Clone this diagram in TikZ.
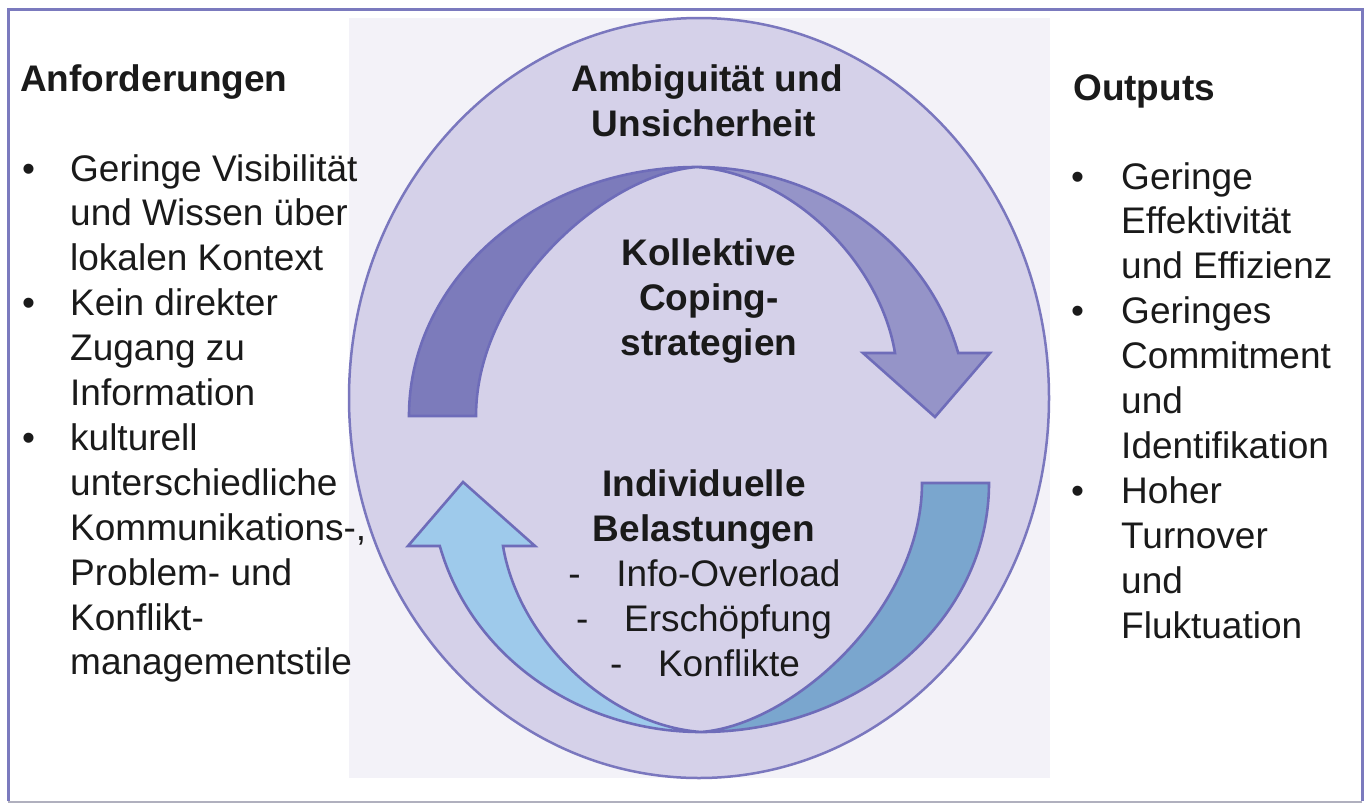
\documentclass[tikz,border=0pt]{standalone}
\usepackage{fontspec}
\setmainfont{Liberation Sans}
\definecolor{framecol}{RGB}{123,122,190}
\definecolor{framebot}{RGB}{176,176,190}
\definecolor{panelcol}{RGB}{243,242,248}
\definecolor{ellfill}{RGB}{213,209,233}
\definecolor{ellline}{RGB}{122,119,190}
\definecolor{arrline}{RGB}{110,108,185}
\definecolor{topdark}{RGB}{124,123,187}
\definecolor{toplight}{RGB}{149,148,200}
\definecolor{botsteel}{RGB}{122,166,206}
\definecolor{botlight}{RGB}{158,202,235}
\definecolor{textcol}{RGB}{26,26,26}

% one curved arrow: tapered tail piece (#1) and head piece (#2) meeting at the top
\newcommand\cyclearrow[2]{%
  \filldraw[arrowstroke, fill=#1]
    (409,416) arc[start angle=180, end angle=270, x radius=288, y radius=249]
    .. controls (605,174) and (476,290) .. (476,416) -- cycle;
  \filldraw[arrowstroke, fill=#2]
    (697,167) arc[start angle=270, end angle=345.34, x radius=270, y radius=249]
    -- (990,353) -- (935,417) -- (863,353) -- (895,353)
    .. controls (880,262) and (792,174) .. (697,167) -- cycle;
}

\begin{document}
\begin{tikzpicture}[x=1pt, y=-1pt,
  arrowstroke/.style={draw=arrline, line width=2.6pt, line join=miter},
  txt/.style={inner sep=0pt, text=textcol, font=\fontsize{37}{45}\selectfont},
  item/.style={txt, anchor=base west},
  head/.style={txt, anchor=base west, font=\fontsize{37}{45}\selectfont\bfseries},
  ctr/.style={txt, anchor=base},
  ctrbold/.style={txt, anchor=base, font=\fontsize{37}{45}\selectfont\bfseries}]
\useasboundingbox (0,0) rectangle (1367,803);
\fill[white] (0,0) rectangle (1367,803);

% outer frame
\draw[framecol, line width=3pt] (8,801) -- (8,9) -- (1362,9) -- (1362,801);
\draw[framebot, line width=2pt] (8,802) -- (1362,802);

% central panel and ellipse
\fill[panelcol] (349,18) rectangle (1050,778);
\draw[ellline, fill=ellfill, line width=2.5pt] (699,398) ellipse [x radius=350, y radius=380];

% upper arrow
\cyclearrow{topdark}{toplight}
% lower arrow: the same shape turned half around
\begin{scope}[rotate around={180:(699,449.5)}]
  \cyclearrow{botsteel}{botlight}
\end{scope}

% left column
\node[head] (anf) at (20,91) {Anforderungen};
\node[item] (lb1) at (22,181) {•};
\node[item] (lb2) at (22,315.7) {•};
\node[item] (lb3) at (22,450.4) {•};
\node[item] (l1) at (70,181) {Geringe Visibilität};
\node[item] (l2) at (70,225.9) {und Wissen über};
\node[item] (l3) at (70,270.8) {lokalen Kontext};
\node[item] (l4) at (70,315.7) {Kein direkter};
\node[item] (l5) at (70,360.6) {Zugang zu};
\node[item] (l6) at (70,405.5) {Information};
\node[item] (l7) at (70,450.4) {kulturell};
\node[item] (l8) at (70,495.3) {unterschiedliche};
\node[item] (l9) at (70,540.2) {Kommunikations-,};
\node[item] (l10) at (70,585.1) {Problem- und};
\node[item] (l11) at (70,630) {Konflikt-};
\node[item] (l12) at (70,674.9) {managementstile};

% right column
\node[head] (out) at (1073,100) {Outputs};
\node[item] (rb1) at (1071,189) {•};
\node[item] (rb2) at (1071,323.7) {•};
\node[item] (rb3) at (1071,503.3) {•};
\node[item] (r1) at (1121,189) {Geringe};
\node[item] (r2) at (1121,233.9) {Effektivität};
\node[item] (r3) at (1121,278.8) {und Effizienz};
\node[item] (r4) at (1121,323.7) {Geringes};
\node[item] (r5) at (1121,368.6) {Commitment};
\node[item] (r6) at (1121,413.5) {und};
\node[item] (r7) at (1121,458.4) {Identifikation};
\node[item] (r8) at (1121,503.3) {Hoher};
\node[item] (r9) at (1121,548.2) {Turnover};
\node[item] (r10) at (1121,593.1) {und};
\node[item] (r11) at (1121,638) {Fluktuation};

% centre texts
\node[ctrbold] (amb) at (707,91) {Ambiguität und};
\node[ctrbold] (uns) at (704,136) {Unsicherheit};
\node[ctrbold] (kol) at (709,265) {Kollektive};
\node[ctrbold] (cop) at (709,310) {Coping-};
\node[ctrbold] (str) at (709,355) {strategien};
\node[ctrbold] (ind) at (704,496) {Individuelle};
\node[ctrbold] (bel) at (704,541) {Belastungen};
\node[ctr] (c1) at (704.5,586) {-\hspace{35.7pt}Info-Overload};
\node[ctr] (c2) at (704,631) {-\hspace{35.7pt}Erschöpfung};
\node[ctr] (c3) at (705,676) {-\hspace{35.7pt}Konflikte};
\end{tikzpicture}
\end{document}
